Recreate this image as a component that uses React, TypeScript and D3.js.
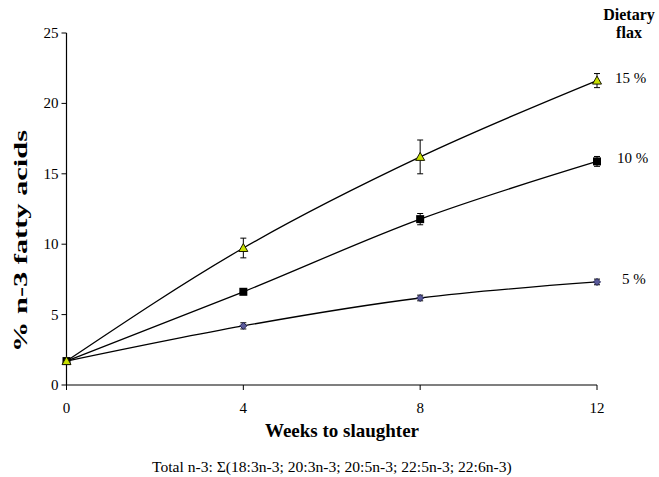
import React from "react";
import * as d3 from "d3";

const weeks = [0, 4, 8, 12];
const flax5 = [1.7, 4.2, 6.18, 7.32];
const flax10 = [1.7, 6.62, 11.78, 15.88];
const flax15 = [1.7, 9.73, 16.2, 21.62];
const err5 = [0.1, 0.22, 0.2, 0.2];
const err10 = [0.1, 0.2, 0.4, 0.35];
const err15 = [0.1, 0.7, 1.2, 0.5];
const seriesLabels = ["5 %", "10 %", "15 %"];
const xTicks = [0, 4, 8, 12];
const yTicks = [0, 5, 10, 15, 20, 25];

const W = 659;
const H = 477;
const font = "Liberation Serif, Times New Roman, serif";

export default function App() {
  const x = d3.scaleLinear().domain([0, 12]).range([66.5, 597]);
  const y = d3.scaleLinear().domain([0, 25]).range([385, 33]);
  const line = d3
    .line<[number, number]>()
    .x((d) => x(d[0]))
    .y((d) => y(d[1]))
    .curve(d3.curveMonotoneX);

  const series = [
    { vals: flax5, err: err5, label: seriesLabels[0], marker: "diamond", lx: 622 },
    { vals: flax10, err: err10, label: seriesLabels[1], marker: "square", lx: 617 },
    { vals: flax15, err: err15, label: seriesLabels[2], marker: "triangle", lx: 615 },
  ];

  const marker = (kind: string, cx: number, cy: number, key: string) => {
    if (kind === "square")
      return <rect key={key} x={cx - 4} y={cy - 4} width={8} height={8} fill="#000" />;
    if (kind === "triangle")
      return (
        <path
          key={key}
          d={`M${cx},${cy - 4.5} L${cx + 4.5},${cy + 3.5} L${cx - 4.5},${cy + 3.5} Z`}
          fill="#c8e000"
          stroke="#1a1a00"
          strokeWidth={1}
        />
      );
    return (
      <path
        key={key}
        d={`M${cx},${cy - 3.5} L${cx + 3.5},${cy} L${cx},${cy + 3.5} L${cx - 3.5},${cy} Z`}
        fill="#5a5a9a"
        stroke="#222255"
        strokeWidth={1}
      />
    );
  };

  const tf = { fontFamily: font };

  return (
    <svg width={W} height={H} style={{ position: "absolute", left: 0, top: 0, background: "#fff" }}>
      {/* axes */}
      <line x1={x(0)} x2={x(0)} y1={y(25)} y2={y(0)} stroke="#000" strokeWidth={1.2} />
      <line x1={x(0)} x2={x(12)} y1={y(0)} y2={y(0)} stroke="#000" strokeWidth={1.2} />
      {yTicks.map((t) => (
        <g key={"yt" + t}>
          <line x1={x(0) - 5} x2={x(0)} y1={y(t)} y2={y(t)} stroke="#000" />
          <text x={x(0) - 8} y={y(t) + 5} textAnchor="end" fontSize={15} style={tf}>
            {t}
          </text>
        </g>
      ))}
      {xTicks.map((t) => (
        <g key={"xt" + t}>
          <line x1={x(t)} x2={x(t)} y1={y(0)} y2={y(0) + 5} stroke="#000" />
          <text x={x(t)} y={y(0) + 28} textAnchor="middle" fontSize={15} style={tf}>
            {t}
          </text>
        </g>
      ))}
      {/* lines */}
      {series.map((s, i) => (
        <path
          key={"l" + i}
          d={line(weeks.map((w, j) => [w, s.vals[j]] as [number, number])) || ""}
          fill="none"
          stroke="#000"
          strokeWidth={1.3}
        />
      ))}
      {/* error bars */}
      {series.map((s, i) =>
        weeks.map((w, j) =>
          j === 0 ? null : (
            <g key={"e" + i + "-" + j} stroke="#000" strokeWidth={1}>
              <line x1={x(w)} x2={x(w)} y1={y(s.vals[j] + s.err[j])} y2={y(s.vals[j] - s.err[j])} />
              <line x1={x(w) - 3} x2={x(w) + 3} y1={y(s.vals[j] + s.err[j])} y2={y(s.vals[j] + s.err[j])} />
              <line x1={x(w) - 3} x2={x(w) + 3} y1={y(s.vals[j] - s.err[j])} y2={y(s.vals[j] - s.err[j])} />
            </g>
          )
        )
      )}
      {/* markers */}
      {series.map((s, i) => weeks.map((w, j) => marker(s.marker, x(w), y(s.vals[j]), "m" + i + "-" + j)))}
      {/* series labels */}
      {series.map((s, i) => (
        <text key={"sl" + i} x={s.lx} y={y(s.vals[3]) + 2} fontSize={15} style={tf}>
          {s.label}
        </text>
      ))}
      <text x={629} y={20} textAnchor="middle" fontSize={16} fontWeight="bold" style={tf}>
        Dietary
      </text>
      <text x={629} y={38} textAnchor="middle" fontSize={16} fontWeight="bold" style={tf}>
        flax
      </text>
      {/* axis titles */}
      <text
        transform={`translate(27, 241) rotate(-90)`}
        textAnchor="middle"
        fontSize={18}
        fontWeight="bold"
        textLength={222}
        lengthAdjust="spacingAndGlyphs"
        style={tf}
      >
        % n-3 fatty acids
      </text>
      <text x={342} y={437} textAnchor="middle" fontSize={19} fontWeight="bold" style={tf}>
        Weeks to slaughter
      </text>
      <text x={152} y={472} fontSize={15.6} style={tf}>
        Total n-3: Σ(18:3n-3; 20:3n-3; 20:5n-3; 22:5n-3; 22:6n-3)
      </text>
    </svg>
  );
}
